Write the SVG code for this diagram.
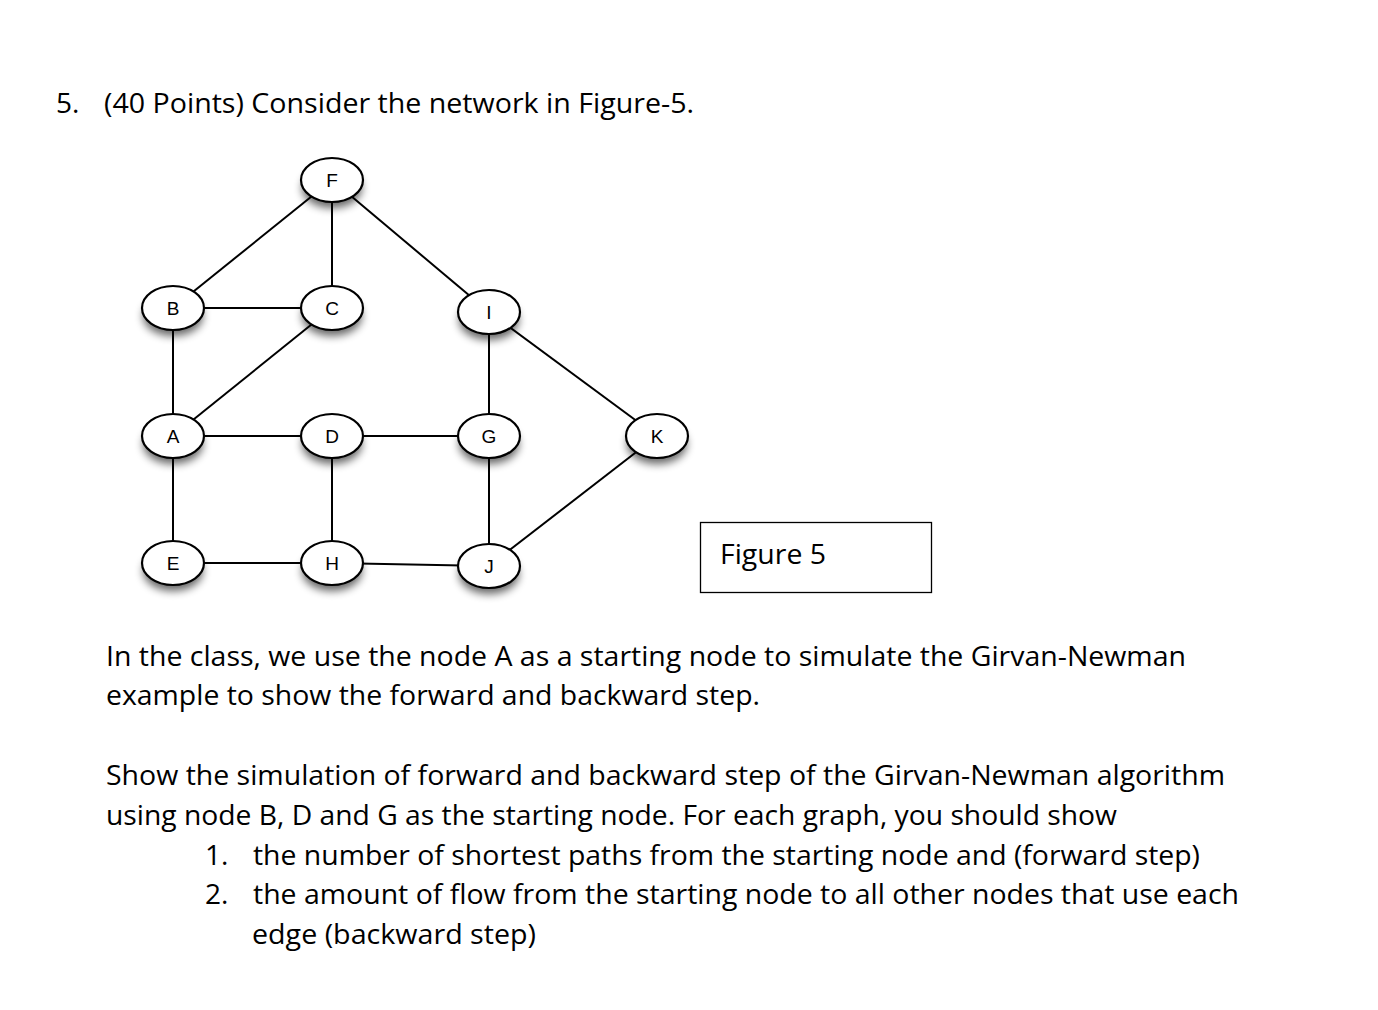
<svg xmlns="http://www.w3.org/2000/svg" width="1378" height="1010" viewBox="0 0 1378 1010">
<style>
.t{font-family:"Open Sans","Liberation Sans",sans-serif;font-size:28px;fill:#000}
.n ellipse{fill:#fff;stroke:#000;stroke-width:2.2}
.n .s{fill:#000;stroke:none;opacity:0.6}
.n text{font-family:"Liberation Sans",Arial,sans-serif;font-size:19px;text-anchor:middle;fill:#000}
.e line{stroke:#000;stroke-width:2}
</style>
<defs><filter id="sh" x="-50%" y="-50%" width="200%" height="220%"><feGaussianBlur stdDeviation="4"/></filter></defs>
<rect width="1378" height="1010" fill="#fff"/>
<text class="t" x="56" y="113">5.</text>
<text class="t" x="104" y="113" textLength="590" lengthAdjust="spacingAndGlyphs">(40 Points) Consider the network in Figure-5.</text>
<g class="e">
<line x1="332" y1="180" x2="173" y2="308"/><line x1="332" y1="180" x2="332" y2="308"/><line x1="332" y1="180" x2="489" y2="312"/>
<line x1="173" y1="308" x2="332" y2="308"/><line x1="173" y1="308" x2="173" y2="436"/><line x1="332" y1="308" x2="173" y2="436"/>
<line x1="489" y1="312" x2="489" y2="436"/><line x1="489" y1="312" x2="657" y2="436"/>
<line x1="173" y1="436" x2="332" y2="436"/><line x1="332" y1="436" x2="489" y2="436"/><line x1="173" y1="436" x2="173" y2="563"/>
<line x1="332" y1="436" x2="332" y2="563"/><line x1="489" y1="436" x2="489" y2="566"/><line x1="657" y1="436" x2="489" y2="566"/>
<line x1="173" y1="563" x2="332" y2="563"/><line x1="332" y1="563" x2="489" y2="566"/>
</g>
<g id="F" class="n"><ellipse class="s" cx="332" cy="188" rx="30" ry="20" filter="url(#sh)"/><ellipse cx="332" cy="180" rx="31" ry="22"/><text x="332" y="187">F</text></g>
<g id="B" class="n"><ellipse class="s" cx="173" cy="316" rx="30" ry="20" filter="url(#sh)"/><ellipse cx="173" cy="308" rx="31" ry="22"/><text x="173" y="315">B</text></g>
<g id="C" class="n"><ellipse class="s" cx="332" cy="316" rx="30" ry="20" filter="url(#sh)"/><ellipse cx="332" cy="308" rx="31" ry="22"/><text x="332" y="315">C</text></g>
<g id="I" class="n"><ellipse class="s" cx="489" cy="320" rx="30" ry="20" filter="url(#sh)"/><ellipse cx="489" cy="312" rx="31" ry="22"/><text x="489" y="319">I</text></g>
<g id="A" class="n"><ellipse class="s" cx="173" cy="444" rx="30" ry="20" filter="url(#sh)"/><ellipse cx="173" cy="436" rx="31" ry="22"/><text x="173" y="443">A</text></g>
<g id="D" class="n"><ellipse class="s" cx="332" cy="444" rx="30" ry="20" filter="url(#sh)"/><ellipse cx="332" cy="436" rx="31" ry="22"/><text x="332" y="443">D</text></g>
<g id="G" class="n"><ellipse class="s" cx="489" cy="444" rx="30" ry="20" filter="url(#sh)"/><ellipse cx="489" cy="436" rx="31" ry="22"/><text x="489" y="443">G</text></g>
<g id="K" class="n"><ellipse class="s" cx="657" cy="444" rx="30" ry="20" filter="url(#sh)"/><ellipse cx="657" cy="436" rx="31" ry="22"/><text x="657" y="443">K</text></g>
<g id="E" class="n"><ellipse class="s" cx="173" cy="571" rx="30" ry="20" filter="url(#sh)"/><ellipse cx="173" cy="563" rx="31" ry="22"/><text x="173" y="570">E</text></g>
<g id="H" class="n"><ellipse class="s" cx="332" cy="571" rx="30" ry="20" filter="url(#sh)"/><ellipse cx="332" cy="563" rx="31" ry="22"/><text x="332" y="570">H</text></g>
<g id="J" class="n"><ellipse class="s" cx="489" cy="574" rx="30" ry="20" filter="url(#sh)"/><ellipse cx="489" cy="566" rx="31" ry="22"/><text x="489" y="573">J</text></g>
<g id="fig"><rect x="700.5" y="522.5" width="231" height="70" fill="#fff" stroke="#000" stroke-width="1.3"/><text class="t" x="720" y="564" textLength="106" lengthAdjust="spacingAndGlyphs">Figure 5</text></g>
<text class="t" x="106" y="666" textLength="1080" lengthAdjust="spacingAndGlyphs">In the class, we use the node A as a starting node to simulate the Girvan-Newman</text>
<text class="t" x="106" y="705" textLength="654" lengthAdjust="spacingAndGlyphs">example to show the forward and backward step.</text>
<text class="t" x="106" y="785" textLength="1119" lengthAdjust="spacingAndGlyphs">Show the simulation of forward and backward step of the Girvan-Newman algorithm</text>
<text class="t" x="106" y="825" textLength="1011" lengthAdjust="spacingAndGlyphs">using node B, D and G as the starting node. For each graph, you should show</text>
<text class="t" x="205" y="865">1.</text>
<text class="t" x="253" y="865" textLength="947" lengthAdjust="spacingAndGlyphs">the number of shortest paths from the starting node and (forward step)</text>
<text class="t" x="205" y="904">2.</text>
<text class="t" x="253" y="904" textLength="986" lengthAdjust="spacingAndGlyphs">the amount of flow from the starting node to all other nodes that use each</text>
<text class="t" x="252" y="944" textLength="284" lengthAdjust="spacingAndGlyphs">edge (backward step)</text>
</svg>
